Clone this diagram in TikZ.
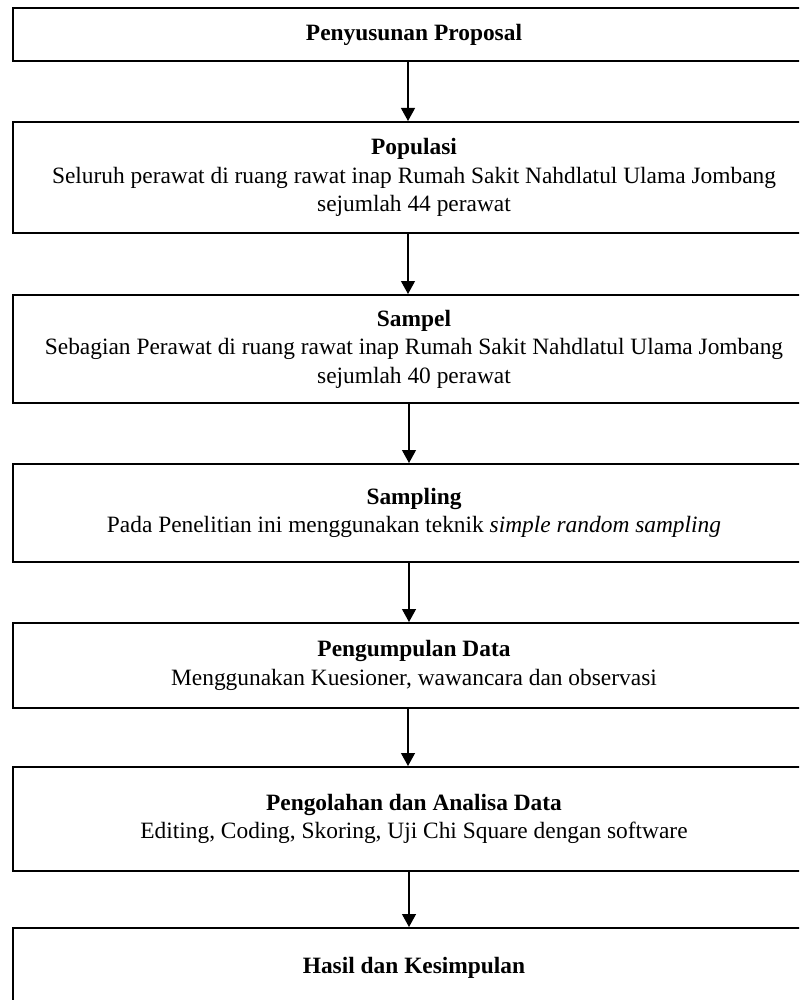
\documentclass[tikz,border=0pt]{standalone}
\usepackage{fontspec}
\setmainfont{Liberation Serif}
\usetikzlibrary{arrows.meta}
\tikzset{
  stage/.style={draw, line width=1pt, rectangle, minimum width=401pt, align=center,
    inner sep=2pt, font=\fontsize{11.7}{14.2}\selectfont},
  flow/.style={line width=0.6pt, -{Triangle[width=7pt,length=6.5pt]}}
}
\begin{document}
\begin{tikzpicture}[x=0.5pt, y=-0.5pt]
      \useasboundingbox (0,0) rectangle (799,1000);
      \clip (0,0) rectangle (799,1000);
      \node[stage, minimum height=26.5pt] (proposal) at (414,34.5)
        {\textbf{Penyusunan Proposal}};
      \node[stage, minimum height=55.5pt] (populasi) at (414,177.5)
        {\textbf{Populasi}\\Seluruh perawat di ruang rawat inap Rumah Sakit Nahdlatul Ulama Jombang\\sejumlah 44 perawat};
      \node[stage, minimum height=54pt] (sampel) at (414,349)
        {\textbf{Sampel}\\Sebagian Perawat di ruang rawat inap Rumah Sakit Nahdlatul Ulama Jombang\\sejumlah 40 perawat};
      \node[stage, minimum height=49pt] (sampling) at (414,513)
        {\textbf{Sampling}\\Pada Penelitian ini menggunakan teknik \textit{simple random sampling}};
      \node[stage, minimum height=42.5pt] (pengumpulan) at (414,665.5)
        {\textbf{Pengumpulan Data}\\Menggunakan Kuesioner, wawancara dan observasi};
      \node[stage, minimum height=52pt] (pengolahan) at (414,819)
        {\textbf{Pengolahan dan Analisa Data}\\Editing, Coding, Skoring, Uji Chi Square dengan software};
      \node[stage, minimum height=40pt] (hasil) at (414,968)
        {\textbf{Hasil dan Kesimpulan}};
      \begin{scope}[flow]
        \draw ([xshift=-3pt]proposal.south) to ([xshift=-3pt]populasi.north);
        \draw ([xshift=-3pt]populasi.south) to ([xshift=-3pt]sampel.north);
        \draw ([xshift=-2.5pt]sampel.south) to ([xshift=-2.5pt]sampling.north);
        \draw ([xshift=-2.5pt]sampling.south) to ([xshift=-2.5pt]pengumpulan.north);
        \draw ([xshift=-3pt]pengumpulan.south) to ([xshift=-3pt]pengolahan.north);
        \draw ([xshift=-2.5pt]pengolahan.south) to ([xshift=-2.5pt]hasil.north);
      \end{scope}
    \end{tikzpicture}
\end{document}
